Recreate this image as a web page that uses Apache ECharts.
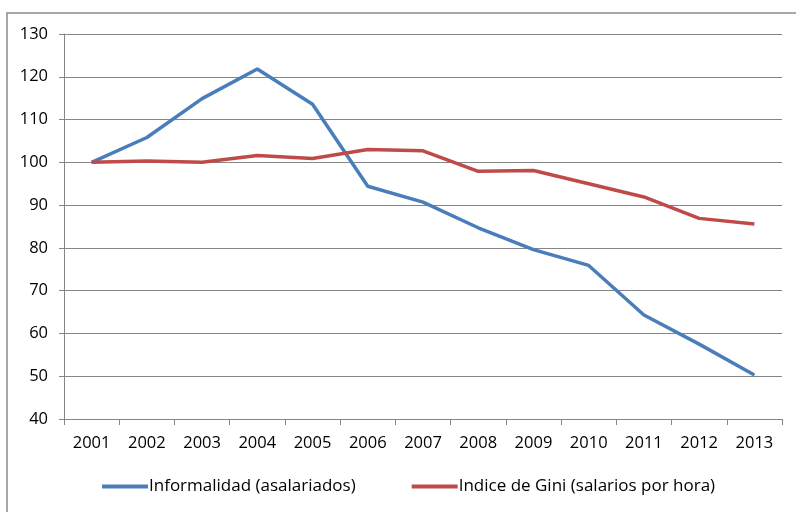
<!DOCTYPE html>
<html>
<head>
<meta charset="utf-8">
<script src="https://cdn.jsdelivr.net/npm/echarts@6/dist/echarts.min.js"></script>
<style>
	html, body { margin: 0; padding: 0; background: #fff; }
	#chart1 { width: 796px; height: 512px; }
</style>
</head>
<body>
<div id="chart1"></div>
<script>
var years = ['2001', '2002', '2003', '2004', '2005', '2006', '2007', '2008', '2009', '2010', '2011', '2012', '2013'];
var informalidad = [100, 105.8, 114.9, 121.8, 113.6, 94.4, 90.7, 84.7, 79.6, 75.9, 64.3, 57.5, 50.3];
var gini = [100, 100.3, 100.0, 101.6, 100.9, 103.0, 102.7, 97.9, 98.1, 95.0, 91.9, 86.9, 85.6];
var seriesNames = ['Informalidad (asalariados)', 'Indice de Gini (salarios por hora)'];

function chart1() {
	var myChart = echarts.init(document.getElementById('chart1'));
	var font = '"Open Sans", sans-serif';
	var option = {
		animation: false,
		color: ['#4a7ebb', '#be4b48'],
		graphic: [{
			type: 'rect',
			shape: { x: 7, y: 13, width: 900, height: 600 },
			style: { fill: 'none', stroke: '#8c8c8c', lineWidth: 1.5 },
			silent: true
		}],
		grid: {
			left: 64,
			right: 14,
			top: 34,
			bottom: 93
		},
		legend: {
			bottom: 12,
			left: 97,
			itemWidth: 46,
			itemHeight: 4,
			itemGap: 56,
			icon: 'rect',
			textStyle: {
				fontFamily: font,
				fontSize: 17,
				color: '#000',
				padding: [0, 0, 0, -4]
			},
			data: seriesNames
		},
		xAxis: {
			type: 'category',
			boundaryGap: true,
			data: years,
			axisLine: { lineStyle: { color: '#868686', width: 1 } },
			axisTick: { show: true, length: 6, lineStyle: { color: '#868686' } },
			axisLabel: {
				margin: 16,
				fontFamily: font,
				fontSize: 16.5,
				color: '#000'
			}
		},
		yAxis: {
			type: 'value',
			min: 40,
			max: 130,
			interval: 10,
			axisLine: { show: true, lineStyle: { color: '#868686', width: 1 } },
			axisTick: { show: true, length: 5, lineStyle: { color: '#868686' } },
			splitLine: { lineStyle: { color: '#868686', width: 1 } },
			axisLabel: {
				margin: 16,
				fontFamily: font,
				fontSize: 16.5,
				color: '#000'
			}
		},
		series: [{
			name: seriesNames[0],
			type: 'line',
			data: informalidad,
			showSymbol: false,
			lineStyle: { width: 3.5 }
		}, {
			name: seriesNames[1],
			type: 'line',
			data: gini,
			showSymbol: false,
			lineStyle: { width: 3.5 }
		}]
	};
	myChart.setOption(option);
}

chart1();
</script>
</body>
</html>
